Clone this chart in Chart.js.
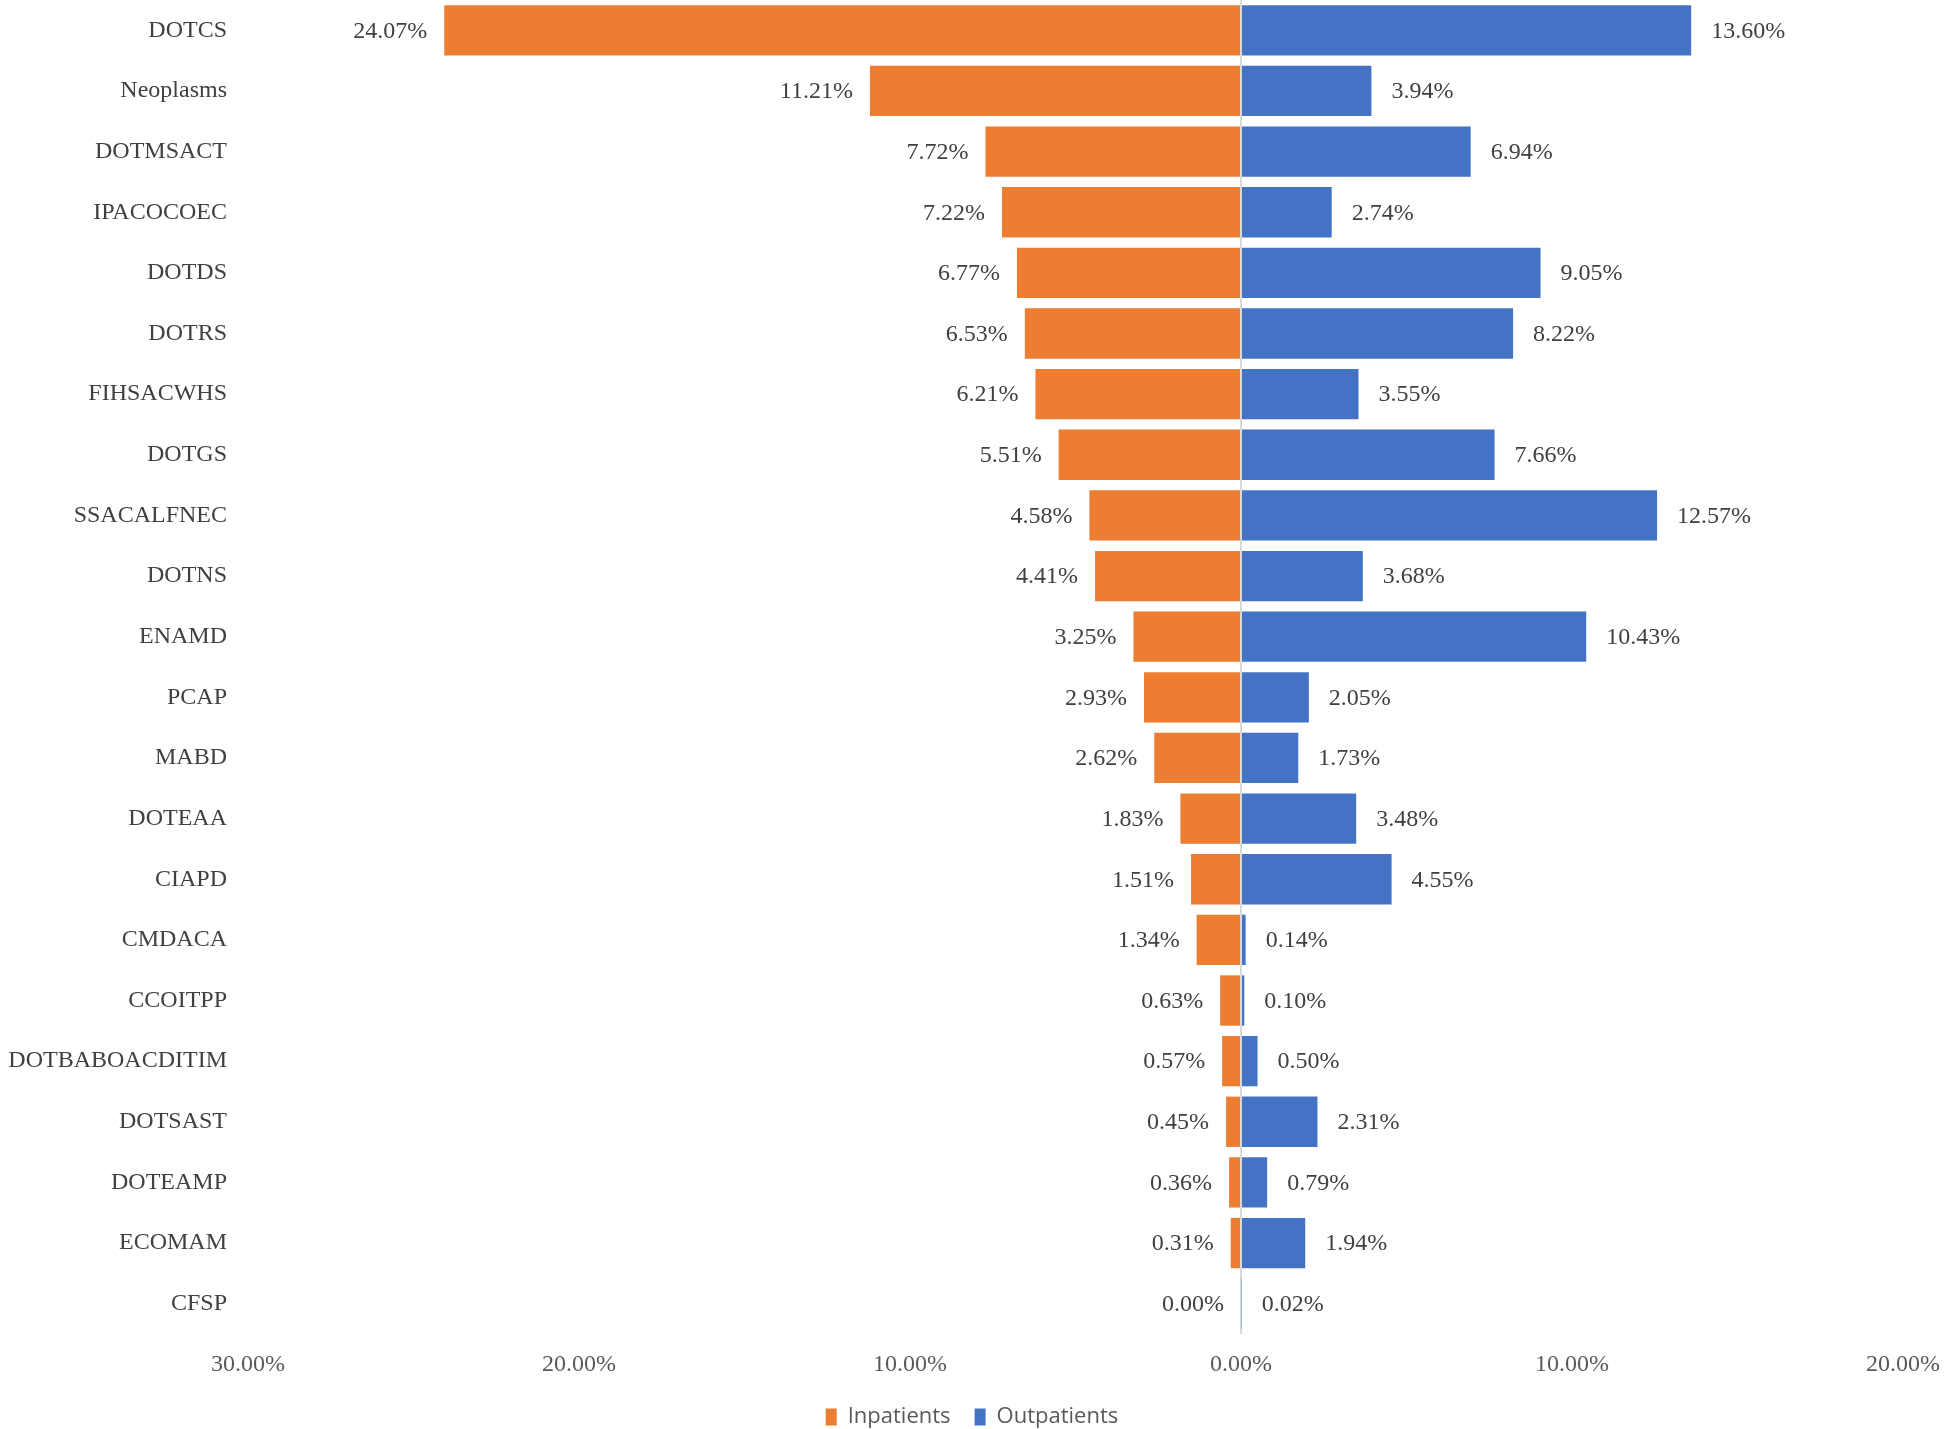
<!DOCTYPE html>
<html>
<head>
<meta charset="utf-8">
<script src="https://cdn.jsdelivr.net/npm/chart.js@4.4.0/dist/chart.umd.min.js"></script>
<style>
    html, body { margin: 0; padding: 0; background: #fff; }
    #wrap { width: 1944px; height: 1429px; }
</style>
</head>
<body>
<div id="wrap"><canvas id="chart" width="1944" height="1429"></canvas></div>
<script>
let categories = ['DOTCS', 'Neoplasms', 'DOTMSACT', 'IPACOCOEC', 'DOTDS', 'DOTRS', 'FIHSACWHS', 'DOTGS',
    'SSACALFNEC', 'DOTNS', 'ENAMD', 'PCAP', 'MABD', 'DOTEAA', 'CIAPD', 'CMDACA', 'CCOITPP',
    'DOTBABOACDITIM', 'DOTSAST', 'DOTEAMP', 'ECOMAM', 'CFSP'];
let inpatients = [24.07, 11.21, 7.72, 7.22, 6.77, 6.53, 6.21, 5.51, 4.58, 4.41, 3.25, 2.93, 2.62, 1.83,
    1.51, 1.34, 0.63, 0.57, 0.45, 0.36, 0.31, 0.00];
let outpatients = [13.60, 3.94, 6.94, 2.74, 9.05, 8.22, 3.55, 7.66, 12.57, 3.68, 10.43, 2.05, 1.73, 3.48,
    4.55, 0.14, 0.10, 0.50, 2.31, 0.79, 1.94, 0.02];
let xTicks = [-30, -20, -10, 0, 10, 20];

const serif = '"Liberation Serif", "Times New Roman", serif';

// draws the value next to the end of each bar
let barLabels = {
    id: 'barLabels',
    afterDatasetsDraw(chart) {
        let ctx = chart.ctx;
        ctx.save();
        ctx.font = '24px ' + serif;
        ctx.fillStyle = '#404040';
        ctx.textBaseline = 'middle';
        chart.data.datasets.forEach((ds, i) => {
            let meta = chart.getDatasetMeta(i);
            meta.data.forEach((bar, j) => {
                let v = Math.abs(ds.data[j]).toFixed(2) + '%';
                if (i === 0) {
                    ctx.textAlign = 'right';
                    ctx.fillText(v, bar.x - 17, bar.y + 1);
                } else {
                    ctx.textAlign = 'left';
                    ctx.fillText(v, bar.x + 20, bar.y + 1);
                }
            });
        });
        ctx.restore();
    }
};

new Chart(document.getElementById('chart').getContext('2d'), {
    type: 'bar',
    data: {
        labels: categories,
        datasets: [{
            label: 'Inpatients',
            data: inpatients.map(v => -v),
            backgroundColor: '#ED7D31',
            categoryPercentage: 0.83,
            barPercentage: 1.0
        }, {
            label: 'Outpatients',
            data: outpatients,
            backgroundColor: '#4472C4',
            categoryPercentage: 0.83,
            barPercentage: 1.0
        }]
    },
    plugins: [barLabels],
    options: {
        indexAxis: 'y',
        responsive: false,
        animation: false,
        layout: { padding: { left: 0, right: 0, top: 0, bottom: -9 } },
        scales: {
            x: {
                stacked: true,
                min: -30,
                max: 20,
                afterBuildTicks: scale => {
                    scale.ticks = xTicks.map(v => ({ value: v }));
                },
                afterFit: scale => {
                    scale.height = 48;
                    scale.paddingLeft = 0;
                    scale.paddingRight = 41;
                },
                border: { display: false },
                grid: {
                    drawTicks: false,
                    color: c => c.tick && c.tick.value === 0 ? '#d9d9d9' : 'rgba(0,0,0,0)',
                    lineWidth: 2
                },
                ticks: {
                    padding: 16,
                    color: '#595959',
                    font: { family: serif, size: 24 },
                    callback: v => Math.abs(v).toFixed(2) + '%'
                }
            },
            y: {
                stacked: true,
                border: { display: false },
                grid: { display: false, drawTicks: false },
                afterFit: scale => {
                    scale.width = 248;
                    scale.paddingTop = 0;
                    scale.paddingBottom = 0;
                },
                ticks: {
                    padding: 21,
                    color: '#404040',
                    font: { family: serif, size: 24 }
                }
            }
        },
        plugins: {
            tooltip: { enabled: false },
            legend: {
                position: 'bottom',
                labels: {
                    boxWidth: 11,
                    boxHeight: 17,
                    padding: 24,
                    color: '#595959',
                    font: { family: '"Open Sans", "Liberation Sans", sans-serif', size: 22 }
                }
            }
        }
    }
});
</script>
</body>
</html>
